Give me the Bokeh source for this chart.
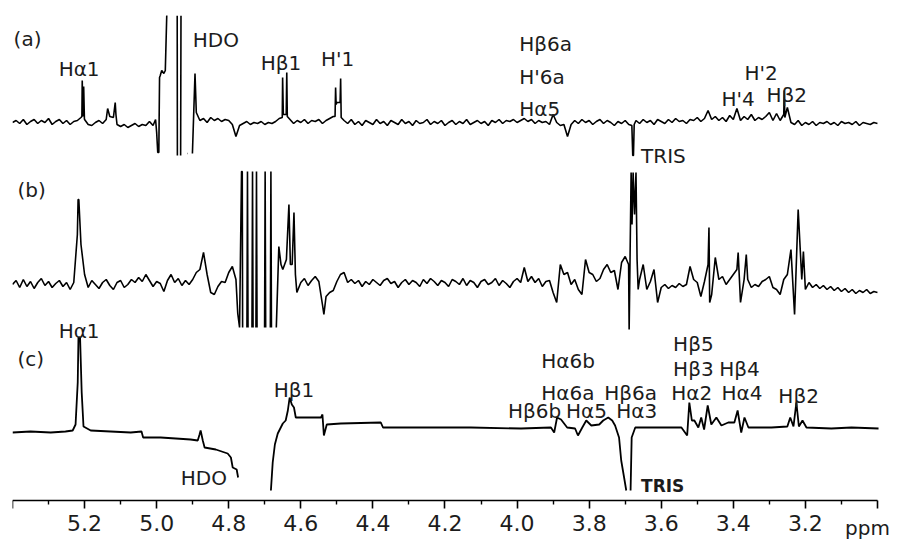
import math
from bokeh.plotting import figure
from bokeh.models import Range1d, FixedTicker, ColumnDataSource, Label, PrintfTickFormatter
from bokeh.core.properties import value
from bokeh.embed import file_html
from bokeh.resources import INLINE

NAN = float("nan")
N = None  # no sample read at this grid point

# chemical-shift grid (ppm) for the noisy traces, 0.01 ppm steps
grid_ppm = [round(5.40 - 0.01 * i, 2) for i in range(241)]

# ---------------- trace (a) ----------------
a_grid = [
    0, 2, -1, 3, -2, 1, 3, -1, 2, 0,
    4, -2, 1, 3, -1, 2, -2, 1, 2, 5,
    3, -2, -3, 0, 2, -1, 3, 6, 5, -2,
    -4, -2, -5, -3, -1, -4, -2, -3, 1, -3,
    -10, 47, 49, 107, NAN, NAN, NAN, NAN, N, NAN,
    N, 10, 2, 4, 0, 5, 2, 4, 1, 3,
    2, -2, -14, -3, -1, 1, -2, 0, -1, 1,
    -2, 0, -1, 1, 4, N, N, 3, -1, 2,
    0, 3, -1, 2, 1, 3, -1, 2, 4, 6,
    20, N, 2, -1, 3, -2, 1, -3, 2, 0,
    -2, 3, -1, 1, -3, 2, 0, -2, 3, -1,
    1, -3, 2, -1, 0, 3, -2, 1, -1, 2,
    -3, 0, 2, -2, 1, -1, 3, -2, 0, 2,
    -1, 1, -3, 2, 0, 3, -1, 2, 1, 3,
    0, 2, 4, 1, 3, -1, 2, 0, 1, -2,
    8, 0, -3, -2, -14, -2, 2, -1, 3, 0,
    2, -2, 1, 3, -1, 2, 0, -3, 1, -1,
    2, -2, N, 2, -1, 3, 0, 2, -2, 3,
    1, -1, 3, 0, 4, 1, 2, -1, 3, 2,
    5, 1, 4, 12, 3, 6, 2, 5, 1, 7,
    3, 14, 2, 6, 3, 8, 2, 5, 3, 6,
    10, 2, 9, 2, 8, 15, 0, -2, 2, -3,
    0, -2, 1, -3, 0, -1, 1, -2, 0, -3,
    1, -1, 0, -2, 1, -3, 0, -1, -2, 0, -1,
]
a_peak_ppm = [5.2075, 5.2065, 5.2045, 5.2025, 5.2005,
              5.136, 5.115, 5.113,
              5.003, 4.997, 4.994, 4.992, 4.986, 4.976, 4.972,
              4.943, 4.9425, 4.9335, 4.9325, 4.915, 4.914, 4.9008, 4.8936,
              4.6515, 4.6505, 4.6485, 4.6405, 4.639, 4.6375,
              4.505, 4.5035, 4.502, 4.491, 4.4895, 4.488,
              3.6815, 3.679, 3.677, 3.675,
              3.2585, 3.257]
a_peak_val = [6, 42, 6, 36, 4,
              14, 20, 8,
              3, -30, -30, 45, 52, 52, 107,
              107, -33, -33, 107, -31, -31, -31, 49,
              5, 45, 8, 8, 50, 6,
              6, 35, 18, 20, 44, 5,
              -3, -33, -33, -2,
              32, 5]

# ---------------- trace (b) ----------------
b_grid = [
    0, 4, -3, 5, -2, 3, -4, 2, 6, -1,
    3, -3, 1, 4, -2, 2, -5, 2, 50, 40,
    10, -3, 4, 0, -4, 2, 5, -1, -5, 2,
    4, -3, 0, 5, 2, 7, 3, 10, 4, -2,
    3, 1, -7, 4, 10, 2, 6, -1, 4, 0,
    5, 12, 15, 32, 10, -8, -10, -2, 3, 2,
    12, 18, 5, N, N, N, N, N, N, N,
    N, N, N, N, N, N, N, N, N, N,
    2, 6, -1, 4, 8, 3, -20, -12, -8, -6,
    3, 10, 12, 2, 5, 1, 4, -2, 3, 0,
    5, 2, -1, 4, 6, 1, 3, -3, 2, 5,
    0, 4, 2, -2, 5, 1, 6, 3, -1, 4,
    2, -2, 5, 3, 0, 6, -1, 4, 2, -3,
    3, 5, 0, 2, 6, -1, 4, 1, -3, 3,
    6, 2, 17, 3, 8, 2, 6, -2, 3, 4,
    -8, -18, 20, 10, 12, 0, 5, -5, -10, 25,
    12, 10, 3, 6, 15, 20, 12, 14, -5, 22,
    28, N, N, N, 5, 20, -5, 3, 15, -18,
    -3, 0, -4, -1, -3, 1, -2, 0, 18, 5,
    2, -12, 3, 20, -10, 27, 5, 8, 0, 5,
    10, 15, -18, 5, 5, -3, 0, -2, 3, 5,
    8, -3, -5, -10, 5, 10, 35, -30, 75, 5,
    -5, 2, -3, 0, -4, -1, -5, -2, -6, -3,
    -7, -4, -8, -5, -9, -6, -8, -5, -9, -7, -8,
]
b_peak_ppm = [5.218, 5.216,
              4.775, 4.770,
              4.7645, 4.7625, 4.7615, 4.756,
              4.7495, 4.748, 4.7465, 4.741,
              4.7355, 4.734, 4.7325, 4.728,
              4.7245, 4.723, 4.7215, 4.711,
              4.7005, 4.699, 4.6975, 4.691,
              4.6845, 4.683, 4.6815, 4.674,
              4.668, 4.661, 4.655, 4.650, 4.640, 4.633, 4.629, 4.624, 4.619,
              4.615, 4.611,
              4.536,
              3.6905, 3.689, 3.6835, 3.681, 3.678, 3.674, 3.670, 3.667, 3.664,
              3.4675, 3.4655, 3.3865, 3.364, 3.2055]
b_peak_val = [85, 85,
              -29, -43,
              113, 113, -43, NAN,
              -43, 113, -43, NAN,
              -43, 113, -43, NAN,
              -43, 113, -43, NAN,
              -43, 113, -43, NAN,
              -43, 113, -43, NAN,
              -43, 38, 20, 15, 25, 80, 20, 20, 72,
              10, -8,
              -30,
              20, -45, 112, 60, 112, 70, 112, 25, -5,
              57, -18, 32, 30, 33]

# ---------------- trace (c) ----------------
c_ppm = [5.400, 5.350, 5.294, 5.253, 5.233, 5.225, 5.219, 5.217, 5.2125, 5.208,
         5.203, 5.183, 5.128, 5.072, 5.042, 5.0375, 4.989, 4.947, 4.906, 4.886,
         4.881, 4.878, 4.872, 4.867, 4.836, 4.803, 4.794, 4.789, 4.778, 4.774,
         4.728,
         4.683, 4.678, 4.672, 4.664, 4.650, 4.642, 4.636, 4.631, 4.625, 4.619,
         4.614, 4.586, 4.544, 4.540, 4.536, 4.528, 4.489, 4.378, 4.372, 4.267,
         4.128, 3.989, 3.906, 3.897, 3.889, 3.878, 3.861, 3.839, 3.831, 3.819,
         3.808, 3.794, 3.772, 3.761, 3.747, 3.736, 3.728, 3.717, 3.711, 3.703,
         3.697, 3.691,
         3.685, 3.682, 3.672, 3.625, 3.544, 3.528, 3.522, 3.515, 3.508, 3.497,
         3.489, 3.481, 3.471, 3.461, 3.447, 3.433, 3.414, 3.397, 3.388, 3.378,
         3.369, 3.358, 3.294, 3.250, 3.242, 3.233, 3.225, 3.218, 3.208, 3.197,
         3.128, 3.072, 2.997]
c_val = [0, 1, 0, 1, 2, 8, 50, 95, 95, 40,
         6, 2, 1, 0, 1, -5, -5, -6, -7, -8,
         -2, 2, -8, -15, -17, -21, -25, -35, -37, -45,
         NAN,
         -58, -30, -12, -1, 9, 12, 22, 35, 28, 25,
         15, 15, 15, 18, -3, 8, 9, 10, 5, 5,
         5, 4, 5, 0, 15, 13, 5, 4, -3, 5,
         12, 7, 8, 12, 15, 12, 7, -5, -28, -45,
         -58, NAN,
         -58, -5, 5, 5, 5, -3, 30, 12, 12, 5,
         15, 3, 27, 8, 15, 7, 10, 10, 22, 0,
         15, 5, 5, 6, 15, 6, 30, 6, 12, 5,
         4, 5, 4]

# vertical placement (baseline of each trace) and annotations
trace_base = {"a": 122, "b": 284, "c": 432}
annotations = [
    ("(a)", 5.397, 38), ("Hα1", 5.272, 68), ("HDO", 4.900, 39), ("Hβ1", 4.711, 62),
    ("H'1", 4.544, 58), ("Hβ6a", 3.994, 43), ("H'6a", 3.994, 76), ("Hα5", 3.994, 108),
    ("TRIS", 3.656, 155), ("H'4", 3.433, 98), ("H'2", 3.369, 72), ("Hβ2", 3.308, 94),
    ("(b)", 5.386, 189),
    ("(c)", 5.386, 358), ("Hα1", 5.272, 330), ("HDO", 4.933, 477), ("Hβ1", 4.675, 389),
    ("Hα6b", 3.933, 360), ("Hα6a", 3.933, 392), ("Hβ6a", 3.758, 392),
    ("Hβ6b", 4.025, 410), ("Hα5", 3.864, 410), ("Hα3", 3.725, 410),
    ("Hβ5", 3.567, 343), ("Hβ3", 3.567, 368), ("Hα2", 3.572, 392),
    ("Hβ4", 3.439, 368), ("Hα4", 3.433, 392), ("Hβ2", 3.275, 395),
]
tris_c = ("TRIS", 3.656, 485)
unit_label = ("ppm", 3.09, 527)
axis_level = 500
axis_span = (3.0, 5.4)
x_ticks = [5.4, 5.2, 5.0, 4.8, 4.6, 4.4, 4.2, 4.0, 3.8, 3.6, 3.4, 3.2, 3.0]
x_minor = [5.3, 5.1, 4.9, 4.7, 4.5, 4.3, 4.1, 3.9, 3.7, 3.5, 3.3, 3.1]


def merge(grid_vals, extra_ppm, extra_val):
    pts = [(p, v) for p, v in zip(grid_ppm, grid_vals) if v is not None]
    pts += list(zip(extra_ppm, extra_val))
    pts.sort(key=lambda t: -t[0])
    return [p for p, _ in pts], [v for _, v in pts]


FONT = "DejaVu Sans"
INK = "#1c1c1c"

# frame runs to the right edge of the canvas (so the unit label is not clipped);
# 886 px wide at 360.4 px per ppm
p = figure(width=898, height=540, x_range=Range1d(5.4, 5.4 - 886 / 360.4),
           y_range=Range1d(-540, -15),
           output_backend="svg", toolbar_location=None, y_axis_location=None,
           min_border_left=12, min_border_right=0, min_border_top=15, min_border_bottom=0)
p.outline_line_color = None
p.grid.visible = False
p.background_fill_color = "white"
p.border_fill_color = "white"

ax, av = merge(a_grid, a_peak_ppm, a_peak_val)
bx, bv = merge(b_grid, b_peak_ppm, b_peak_val)
p.line(ax, [v - trace_base["a"] for v in av], line_color="black", line_width=1.6)
p.line(bx, [v - trace_base["b"] for v in bv], line_color="black", line_width=1.6)
p.line(c_ppm, [v - trace_base["c"] for v in c_val], line_color="black", line_width=1.8)

src = ColumnDataSource(dict(x=[t[1] for t in annotations],
                            y=[-t[2] for t in annotations],
                            text=[t[0] for t in annotations]))
p.text(x="x", y="y", text="text", source=src, text_font=value(FONT), text_font_size="20px",
       text_baseline="alphabetic", text_align="left", text_color=INK)
p.add_layout(Label(x=tris_c[1], y=-tris_c[2], text=tris_c[0], text_font=FONT,
                   text_font_size="17px", text_font_style="bold", text_color=INK,
                   text_baseline="alphabetic"))

xa = p.xaxis[0]
xa.fixed_location = -axis_level
xa.bounds = axis_span
xa.ticker = FixedTicker(ticks=x_ticks, minor_ticks=x_minor)
xa.formatter = PrintfTickFormatter(format="%.1f")
xa.major_label_overrides = {5.4: "", 3.0: ""}
xa.axis_line_width = 1.6
xa.axis_line_color = "black"
xa.major_tick_in = 0
xa.major_tick_out = 8
xa.minor_tick_in = 0
xa.minor_tick_out = 4
xa.major_tick_line_width = 1.6
xa.minor_tick_line_width = 1.4
xa.major_label_standoff = 6
xa.major_label_text_font = FONT
xa.major_label_text_font_size = "22px"
xa.major_label_text_color = INK

p.add_layout(Label(x=unit_label[1], y=-unit_label[2], text=unit_label[0],
                   text_font=FONT, text_font_size="20px", text_color=INK,
                   text_baseline="alphabetic"))

open("out.html", "w").write(file_html(p, INLINE))
